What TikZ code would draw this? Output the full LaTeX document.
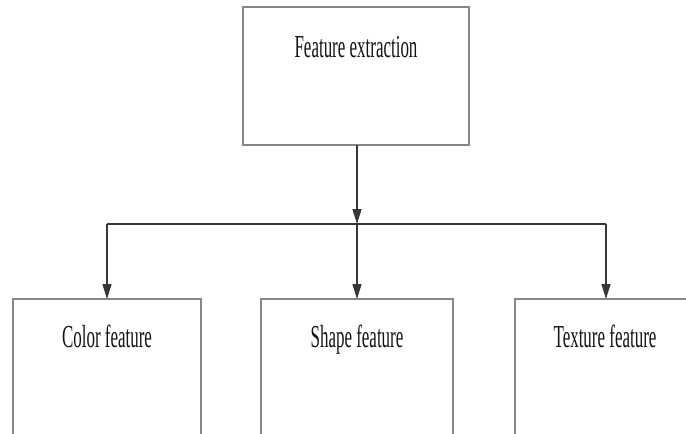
\documentclass[tikz,border=0pt]{standalone}
\usepackage{fontspec}
\setmainfont{Liberation Serif}
\usetikzlibrary{arrows.meta}
\definecolor{boxgray}{RGB}{135,135,135}
\definecolor{linegray}{RGB}{55,55,55}
\definecolor{txt}{RGB}{20,20,20}
\newcommand{\lbl}[1]{\scalebox{0.53}[1]{\fontsize{32}{36}\selectfont #1}}
\begin{document}
\begin{tikzpicture}[x=1pt,y=-1pt,
  box/.style={draw=boxgray,line width=2.2pt,fill=white,inner sep=0pt,outer sep=0pt,minimum height=#1},
  lab/.style={text=txt,anchor=base,inner sep=0pt},
  conn/.style={draw=linegray,line width=1.4pt},
  arr/.style={conn,-{Triangle[length=15pt,width=9pt]}}]
\useasboundingbox (0,0) rectangle (686,434);
\clip (0,0) rectangle (686,434);
\fill[white] (0,0) rectangle (686,434);
% boxes
\node[box=138pt,minimum width=226pt] (top) at (356,76) {};
\node[box=200pt,minimum width=188pt] (left) at (107,399) {};
\node[box=200pt,minimum width=192pt] (mid) at (357,399) {};
\node[box=200pt,minimum width=182pt] (right) at (606,399) {};
% labels
\node[lab] (ttop) at (356,57) {\lbl{Feature extraction}};
\node[lab] (tleft) at (107,347) {\lbl{Color feature}};
\node[lab] (tmid) at (357,347) {\lbl{Shape feature}};
\node[lab] (tright) at (605,347) {\lbl{Texture feature}};
% connectors
\coordinate (j) at (357,224);
\coordinate (jl) at (107,224);
\coordinate (jr) at (606,224);
\draw[arr] (top.south -| j) -- (j);
\draw[conn] (jl) -- (jr);
\draw[arr] (jl) -- (left.north);
\draw[arr] (j) -- (mid.north);
\draw[arr] (jr) -- (right.north);
\end{tikzpicture}
\end{document}
